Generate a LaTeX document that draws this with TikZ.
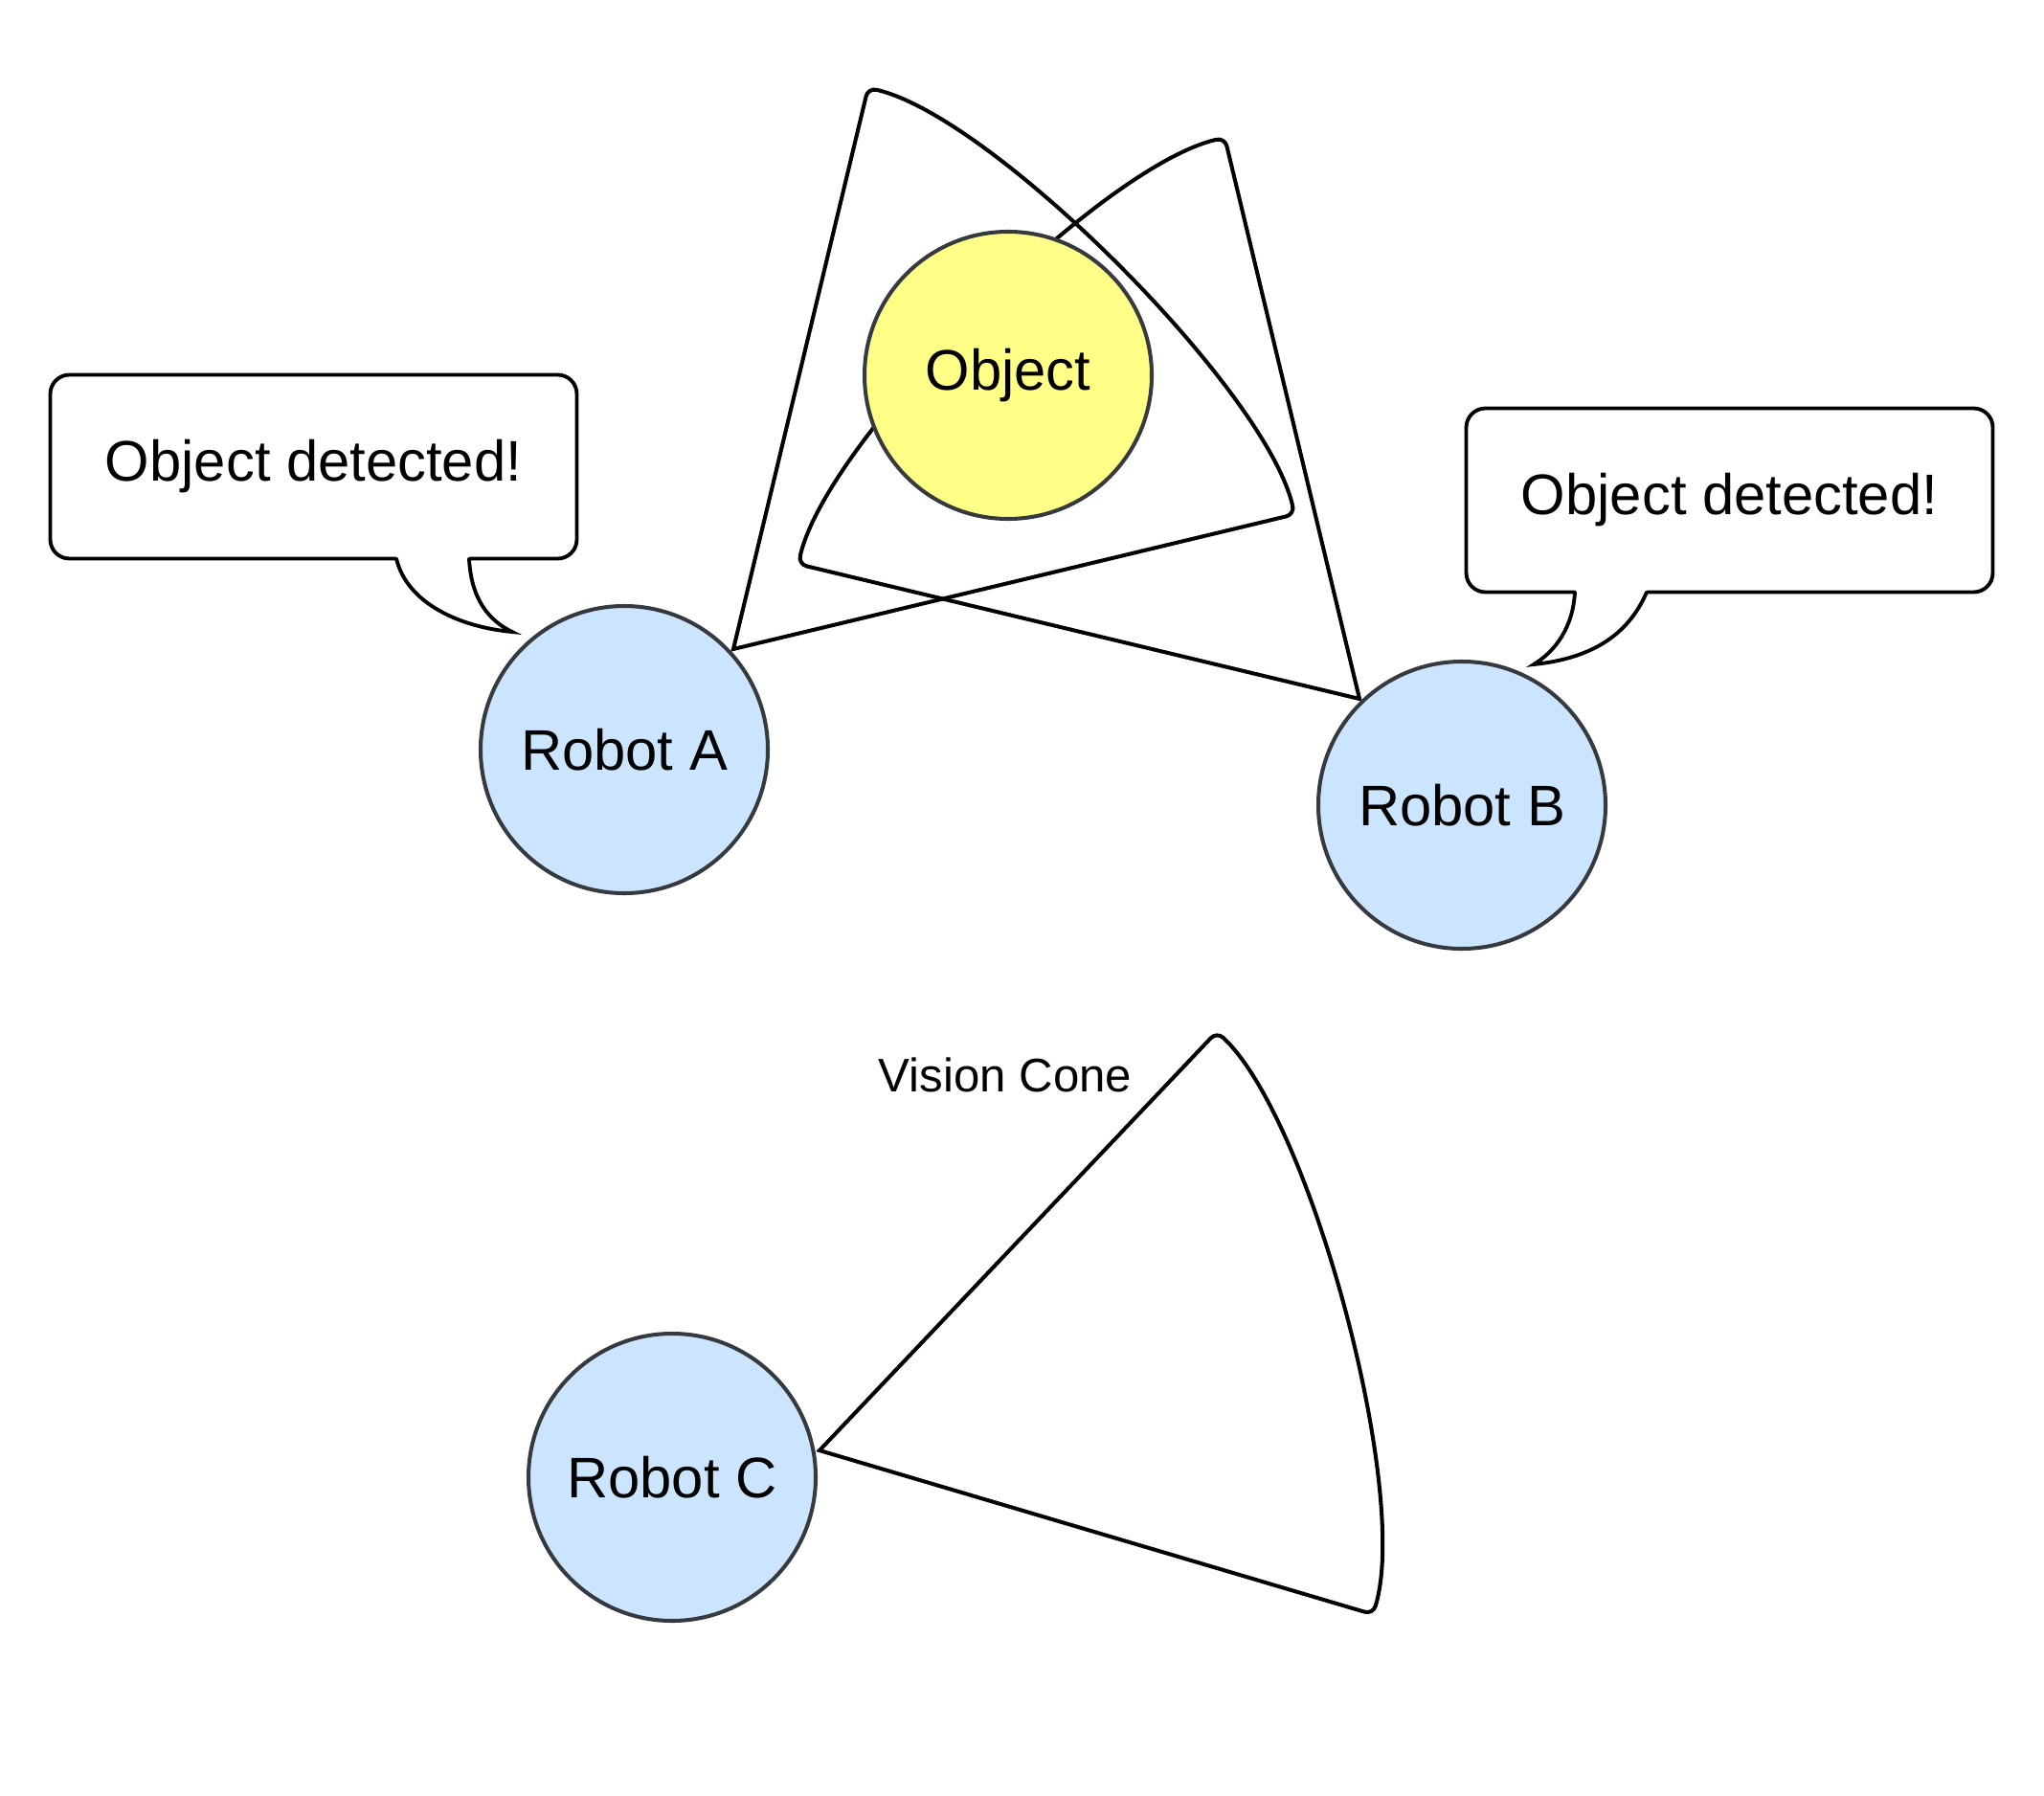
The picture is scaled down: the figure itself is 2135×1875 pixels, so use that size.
\documentclass[tikz,border=0pt]{standalone}
\usepackage{fontspec}
\setmainfont{Liberation Sans}
\definecolor{robotblue}{HTML}{CCE5FF}
\definecolor{objyellow}{HTML}{FFFF88}
\definecolor{edgegray}{HTML}{36393D}
\newcommand\drawvisioncone[2]{%
  \begin{scope}[shift={#1},rotate=#2,x=0.1mm,y=0.1mm]
    \draw[conestroke] (257,157.5) [rounded corners=0.9mm] -- (514,315) .. controls (585,202) and (585,-202) .. (514,-315) [sharp corners] -- (0,0) -- (257,157.5);
  \end{scope}}
\begin{document}
\begin{tikzpicture}[x=0.1mm,y=-0.1mm,
  robot/.style={circle,draw=edgegray,fill=robotblue,line width=1.15pt,minimum size=30mm,inner sep=0pt,font=\fontsize{17}{20}\selectfont},
  objectnode/.style={robot,fill=objyellow},
  conestroke/.style={draw=black,line width=1.15pt,line join=miter},
  bubble/.style={rectangle,rounded corners=2mm,draw=black,fill=white,line width=1.1pt,minimum width=55mm,minimum height=19.2mm,inner sep=0pt,font=\fontsize{17}{20}\selectfont},
  bubbletail/.style={draw=black,line width=1.1pt,line cap=round},
  conelabel/.style={font=\fontsize{14}{17}\selectfont,inner sep=0pt}]
\useasboundingbox (0,0) rectangle (2135,1875);
% vision cone of robot B (behind the object)
\drawvisioncone{(1420,730)}{135}
\node[objectnode] (object) at (1053,392) {Object};
% vision cone of robot A
\drawvisioncone{(766,678)}{45}
% vision cone of robot C
\drawvisioncone{(856,1515)}{15}
\node[conelabel] (visionlabel) at (1050,1123) {Vision Cone};
\node[robot] (robotA) at (652,783) {Robot A};
\node[robot] (robotB) at (1527,841) {Robot B};
\node[robot] (robotC) at (702,1543) {Robot C};
% speech bubble A
\node[bubble] (bubbleA) at (327.5,487.5) {Object detected!};
\fill[white] (412,578) -- (492,578) -- (490,583.5) .. controls (492,625) and (510,648) .. (535,660) .. controls (480,655) and (425,630) .. (414,583.5) -- cycle;
\draw[bubbletail] (490,583.5) .. controls (492,625) and (510,648) .. (535,660) .. controls (480,655) and (425,630) .. (414,583.5);
% speech bubble B
\node[bubble] (bubbleB) at (1806.5,522.5) {Object detected!};
\fill[white] (1643,612) -- (1722,612) -- (1720,618.5) .. controls (1700,665) and (1660,688) .. (1602,694) .. controls (1625,680) and (1643,655) .. (1645,618.5) -- cycle;
\draw[bubbletail] (1720,618.5) .. controls (1700,665) and (1660,688) .. (1602,694) .. controls (1625,680) and (1643,655) .. (1645,618.5);
\end{tikzpicture}
\end{document}
